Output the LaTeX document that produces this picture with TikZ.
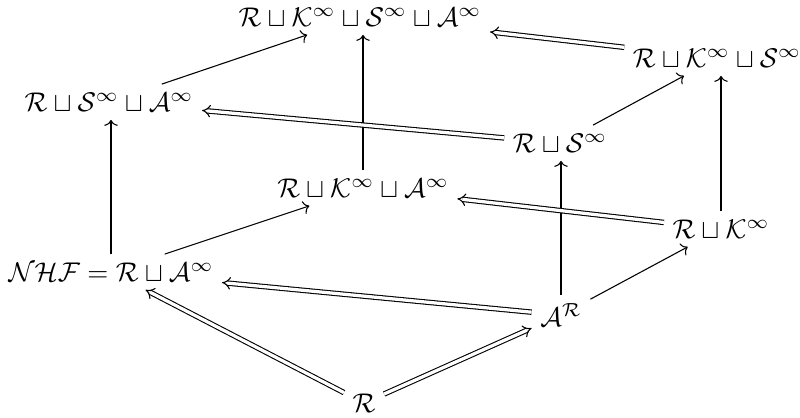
\documentclass[tikz,border=0pt]{standalone}
\usetikzlibrary{arrows.meta}
\begin{document}
\begin{tikzpicture}
  [x=1.3cm,y=1.3cm,every node/.style={inner sep=3pt},
   simple/.style={-{To[length=2.2pt,width=5pt]}},
   doble/.style={double,double distance=1.2pt,-{Implies}}]

  \useasboundingbox (0,0) rectangle (8,4.18);

  % Top level
  \node (nTop) at (3.60,4.01) {$\mathcal{R}\sqcup\mathcal{K}^\infty\sqcup\mathcal{S}^\infty\sqcup\mathcal{A}^\infty$};
  \node (nKS) at (7.17,3.60) {$\mathcal{R}\sqcup\mathcal{K}^\infty\sqcup\mathcal{S}^\infty$};
  \node (nSA) at (1.09,3.16) {$\mathcal{R}\sqcup\mathcal{S}^\infty\sqcup\mathcal{A}^\infty$};
  \node (nS) at (5.60,2.75) {$\mathcal{R}\sqcup\mathcal{S}^\infty$};

  % Middle level
  \node (nKA) at (3.63,2.30) {$\mathcal{R}\sqcup\mathcal{K}^\infty\sqcup\mathcal{A}^\infty$};
  \node (nK) at (7.21,1.89) {$\mathcal{R}\sqcup\mathcal{K}^\infty$};
  \node (nNHF) at (1.11,1.46) {$\mathcal{NHF}=\mathcal{R}\sqcup\mathcal{A}^\infty$};
  \node (nA) at (5.61,1.03) {$\mathcal{A}^\mathcal{R}$};

  % Bottom
  \node (nR) at (3.64,0.15) {$\mathcal{R}$};

  % Vertical arrows
  \foreach \from/\to in {nNHF/nSA, nA/nS, nK/nKS, nKA/nTop}
    \draw[simple] (\from) -- (\from |- \to.south);

  % Slanted arrows
  \foreach \from/\to in {nNHF/nKA, nA/nK, nS/nKS, nSA/nTop}
    \draw[simple] (\from) -- (\to);

  % Double arrows
  \foreach \from/\to in {nR/nNHF, nR/nA, nA/nNHF, nK/nKA, nS/nSA, nKS/nTop}
    \draw[doble] (\from) -- (\to);

\end{tikzpicture}
\end{document}
